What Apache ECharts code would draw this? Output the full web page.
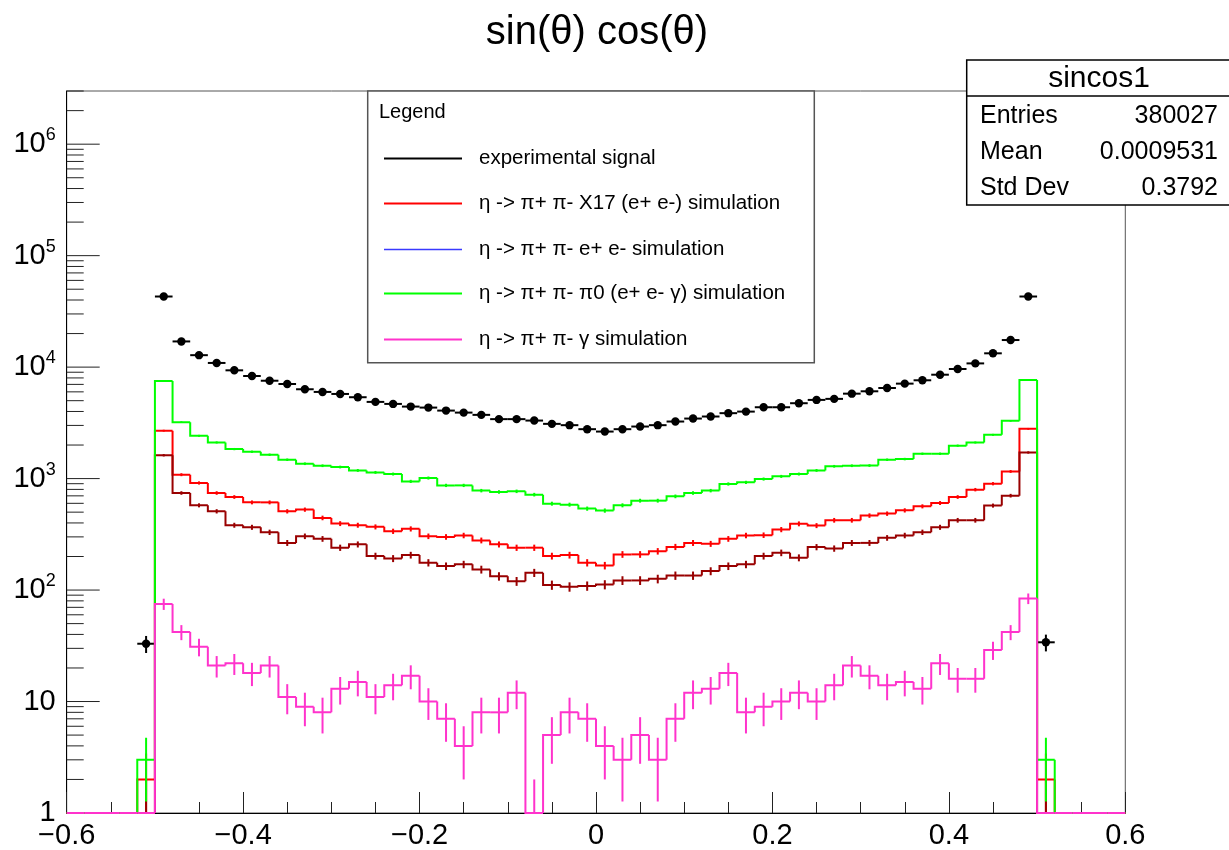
<!DOCTYPE html>
<html>
<head>
<meta charset="utf-8">
<script src="https://cdn.jsdelivr.net/npm/echarts@6/dist/echarts.min.js"></script>
<style>
  html, body { margin: 0; padding: 0; background: #ffffff; }
  #chart { width: 1229px; height: 850px; }
</style>
</head>
<body>
<div id="chart"></div>
<script>
// Histogram binning: 60 bins of width 0.02 over [-0.6, 0.6]
const X_MIN = -0.6, X_MAX = 0.6, BIN_W = 0.02;
const Y_MIN = 1, Y_MAX = 3e6;
const X_TICK_STEP = 0.2;

// Bin contents, one entry per bin from [-0.60,-0.58] to [0.58,0.60]
const experimentalSignal = [0, 0, 0, 0,
  33, 43000, 17000, 12800, 10900, 9360, 8320, 7550, 7060, 6330, 5990, 5745, 5370,
  4876, 4677, 4426, 4335, 4075, 3909, 3730, 3415, 3415, 3316, 3097, 3015, 2775,
  2642, 2775, 2931, 3015, 3250, 3456, 3605, 3863, 3990, 4366, 4366, 4745, 5080,
  5190, 5780, 6070, 6500, 7110, 7620, 8550, 9620, 10800, 13300, 17500, 43000, 34,
  0, 0, 0, 0];

const x17Sim = [0, 0, 0, 0,
  2, 2690, 1084, 914, 743, 684, 612, 612, 509, 527, 444, 395, 382, 369, 337, 354,
  304, 300, 309, 279, 257, 240, 240, 202, 206, 176, 166, 209, 209, 223, 244, 265,
  260, 288, 309, 311, 349, 393, 379, 423, 423, 466, 485, 519, 564, 604, 684, 796,
  900, 1159, 2794, 2,
  0, 0, 0, 0];

const eeSim = [0, 0, 0, 0,
  1, 1620, 743, 576, 509, 382, 366, 330, 265, 304, 288, 240, 257, 202, 192, 206,
  176, 164, 170, 153, 133, 120, 143, 111, 107, 109, 112, 122, 122, 126, 135, 135,
  148, 164, 170, 202, 216, 195, 243, 236, 265, 265, 294, 309, 330, 366, 423, 423,
  573, 703, 1715, 1,
  0, 0, 0, 0];

const pi0DalitzSim = [0, 0, 0, 0,
  3, 7500, 3210, 2420, 2110, 1840, 1741, 1637, 1476, 1359, 1304, 1270, 1184, 1137,
  1099, 944, 1012, 869, 869, 780, 759, 769, 718, 596, 584, 538, 517, 576, 634, 634,
  693, 743, 780, 895, 925, 991, 1047, 1099, 1184, 1290, 1304, 1310, 1476, 1497,
  1670, 1670, 1975, 2108, 2470, 3296, 7670, 3,
  0, 0, 0, 0];

const gammaSim = [0, 0, 0, 0,
  0, 75, 42, 31, 21, 22, 18, 21, 11, 9, 8, 13, 15, 11, 14, 17, 10, 7, 4, 8, 8, 12,
  1, 5, 8, 7, 4, 3, 5, 3, 7, 12, 13, 18, 8, 9, 10, 12, 10, 14, 21, 17, 14, 15, 13,
  22, 16, 16, 29, 42, 84, 0,
  0, 0, 0, 0];

const legendEntries = [
  { label: 'experimental signal', color: '#000000', width: 2 },
  { label: 'η -> π+ π- X17 (e+ e-) simulation', color: '#ff0000', width: 2 },
  { label: 'η -> π+ π- e+ e- simulation', color: '#3a3aff', width: 1.5 },
  { label: 'η -> π+ π- π0 (e+ e- γ) simulation', color: '#00ff00', width: 2 },
  { label: 'η -> π+ π- γ simulation', color: '#ff33cc', width: 2 }
];

const statsTitle = 'sincos1';
const statsRows = [
  ['Entries', '380027'],
  ['Mean', '0.0009531'],
  ['Std Dev', '0.3792']
];

const FONT = "'Liberation Sans', Arial, Helvetica, sans-serif";

// Step-histogram with sqrt(N) error bars; empty bins sit on the axis floor
function histSeries(name, counts, color, z) {
  const data = counts.map((c, i) => [
    X_MIN + i * BIN_W, X_MIN + (i + 1) * BIN_W, c, i > 0 ? counts[i - 1] : 0
  ]);
  return {
    type: 'custom', name, z, silent: true, clip: false,
    encode: { x: [0, 1], y: 2 },
    data,
    renderItem(params, api) {
      const lo = api.value(0), hi = api.value(1), c = api.value(2), prev = api.value(3);
      const yOf = v => api.coord([lo, Math.max(v, Y_MIN)])[1];
      const xlo = api.coord([lo, Y_MIN])[0];
      const xhi = api.coord([hi, Y_MIN])[0];
      const xc = api.coord([(lo + hi) / 2, Y_MIN])[0];
      const children = [{
        type: 'polyline',
        shape: { points: [[xlo, yOf(prev)], [xlo, yOf(c)], [xhi, yOf(c)]] },
        style: { stroke: color, lineWidth: 2, fill: 'none' }
      }];
      if (c > 0) {
        const e = Math.sqrt(c);
        children.push({
          type: 'line',
          shape: { x1: xc, y1: yOf(c - e), x2: xc, y2: yOf(c + e) },
          style: { stroke: color, lineWidth: 2 }
        });
      }
      return { type: 'group', children };
    }
  };
}

// Data points with horizontal bin-width bars and sqrt(N) vertical errors
function pointSeries(name, counts, color, z) {
  const data = counts.map((c, i) => [X_MIN + (i + 0.5) * BIN_W, c]);
  return {
    type: 'custom', name, z, silent: true, clip: false,
    encode: { x: 0, y: 1 },
    data,
    renderItem(params, api) {
      const x = api.value(0), c = api.value(1);
      if (!(c > 0)) return null;
      const e = Math.sqrt(c);
      const p = api.coord([x, c]);
      const xl = api.coord([x - BIN_W / 2, c])[0];
      const xr = api.coord([x + BIN_W / 2, c])[0];
      const yt = api.coord([x, c + e])[1];
      const yb = api.coord([x, Math.max(c - e, Y_MIN)])[1];
      return {
        type: 'group',
        children: [
          { type: 'line', shape: { x1: xl, y1: p[1], x2: xr, y2: p[1] }, style: { stroke: color, lineWidth: 2 } },
          { type: 'line', shape: { x1: p[0], y1: yt, x2: p[0], y2: yb }, style: { stroke: color, lineWidth: 2 } },
          { type: 'circle', shape: { cx: p[0], cy: p[1], r: 4.2 }, style: { fill: color } }
        ]
      };
    }
  };
}

// Log-axis ticks: decades long, 2..9 subdivisions short
const yTickValues = [];
for (let e = 0; e <= 6; e++) {
  for (let m = 1; m <= 9; m++) {
    const v = m * Math.pow(10, e);
    if (v <= Y_MAX * 1.0001) yTickValues.push([X_MIN, v, m === 1 ? 1 : 0]);
  }
}
const yTickSeries = {
  type: 'custom', z: 3, silent: true, clip: false,
  encode: { x: 0, y: 1 },
  data: yTickValues,
  renderItem(params, api) {
    const p = api.coord([api.value(0), api.value(1)]);
    const len = api.value(2) ? 33 : 17;
    return {
      type: 'line',
      shape: { x1: p[0], y1: p[1], x2: p[0] + len, y2: p[1] },
      style: { stroke: '#222', lineWidth: 1 }
    };
  }
};

function fmtX(v) {
  if (Math.abs(v) < 1e-9) return '0';
  const s = Math.abs(v).toFixed(1);
  return v < 0 ? '\u2212' + s : s;
}
function fmtY(v) {
  const e = Math.round(Math.log10(v));
  if (e === 0) return '{b|1}';
  if (e === 1) return '{b|10}';
  return '{b|10}{s|' + e + '}';
}

// Legend box and statistics box
const LEG = { x: 367.7, y: 91, w: 446.6, h: 271.7 };
const legendRowY = [158.5, 203.5, 249.5, 293.5, 339.5];
const graphics = [
  { type: 'rect', z: 100, shape: { x: LEG.x, y: LEG.y, width: LEG.w, height: LEG.h },
    style: { fill: '#fff', stroke: '#555', lineWidth: 1.5 } },
  { type: 'text', z: 101, x: 379, y: 112.5,
    style: { text: 'Legend', font: '20px ' + FONT, fill: '#000', verticalAlign: 'middle' } }
];
legendEntries.forEach((en, i) => {
  graphics.push({ type: 'line', z: 101, shape: { x1: 384, y1: legendRowY[i], x2: 462, y2: legendRowY[i] },
    style: { stroke: en.color, lineWidth: en.width } });
  graphics.push({ type: 'text', z: 101, x: 479, y: legendRowY[i],
    style: { text: en.label, font: '20.5px ' + FONT, fill: '#000', verticalAlign: 'middle' } });
});

const ST = { x: 966.7, y: 60, w: 300, h: 145, sep: 96 };
graphics.push({ type: 'rect', z: 100, shape: { x: ST.x, y: ST.y, width: ST.w, height: ST.h },
  style: { fill: '#fff', stroke: '#000', lineWidth: 1.5 } });
graphics.push({ type: 'line', z: 101, shape: { x1: ST.x, y1: ST.sep, x2: ST.x + ST.w, y2: ST.sep },
  style: { stroke: '#000', lineWidth: 1.5 } });
graphics.push({ type: 'text', z: 101, x: 1099, y: 79,
  style: { text: statsTitle, font: '30px ' + FONT, fill: '#000', align: 'center', verticalAlign: 'middle' } });
const statsRowY = [116, 152, 188];
statsRows.forEach((r, i) => {
  graphics.push({ type: 'text', z: 101, x: 980, y: statsRowY[i],
    style: { text: r[0], font: '25px ' + FONT, fill: '#000', align: 'left', verticalAlign: 'middle' } });
  graphics.push({ type: 'text', z: 101, x: 1218, y: statsRowY[i],
    style: { text: r[1], font: '25px ' + FONT, fill: '#000', align: 'right', verticalAlign: 'middle' } });
});

const chart = echarts.init(document.getElementById('chart'), null, { renderer: 'canvas' });
chart.setOption({
  animation: false,
  backgroundColor: '#ffffff',
  textStyle: { fontFamily: FONT },
  title: {
    text: 'sin(θ) cos(θ)',
    left: 597, top: 13, padding: 0, textAlign: 'center',
    textStyle: { fontFamily: FONT, fontSize: 40, fontWeight: 'normal', color: '#000' }
  },
  grid: {
    left: 66.7, right: 103.7, top: 91, bottom: 35.7,
    show: true, borderColor: '#555', borderWidth: 1, backgroundColor: 'transparent'
  },
  xAxis: {
    type: 'value', min: X_MIN, max: X_MAX, interval: X_TICK_STEP,
    axisLine: { show: true, onZero: false, lineStyle: { color: '#000', width: 1 } },
    axisTick: { show: true, inside: true, length: 21, lineStyle: { color: '#222', width: 1 } },
    minorTick: { show: true, splitNumber: 4, length: 11, lineStyle: { color: '#222', width: 1 } },
    splitLine: { show: false },
    axisLabel: { formatter: fmtX, fontSize: 29, color: '#000', margin: 8, fontFamily: FONT,
      showMinLabel: true, showMaxLabel: true, hideOverlap: false }
  },
  yAxis: {
    type: 'log', logBase: 10, min: Y_MIN, max: Y_MAX,
    axisLine: { show: true, onZero: false, lineStyle: { color: '#000', width: 1 } },
    axisTick: { show: false },
    splitLine: { show: false },
    axisLabel: {
      formatter: fmtY, showMaxLabel: false, margin: 11, color: '#000',
      rich: {
        b: { fontSize: 29, fontFamily: FONT, color: '#000', lineHeight: 36 },
        s: { fontSize: 18, fontFamily: FONT, color: '#000', verticalAlign: 'top', lineHeight: 18 }
      }
    }
  },
  series: [
    yTickSeries,
    pointSeries('experimental signal', experimentalSignal, '#000000', 4),
    histSeries('X17', x17Sim, '#ff0000', 5),
    histSeries('ee', eeSim, '#990000', 6),
    histSeries('pi0', pi0DalitzSim, '#00ff00', 7),
    histSeries('gamma', gammaSim, '#ff33cc', 8)
  ],
  graphic: { elements: graphics }
});
</script>
</body>
</html>
